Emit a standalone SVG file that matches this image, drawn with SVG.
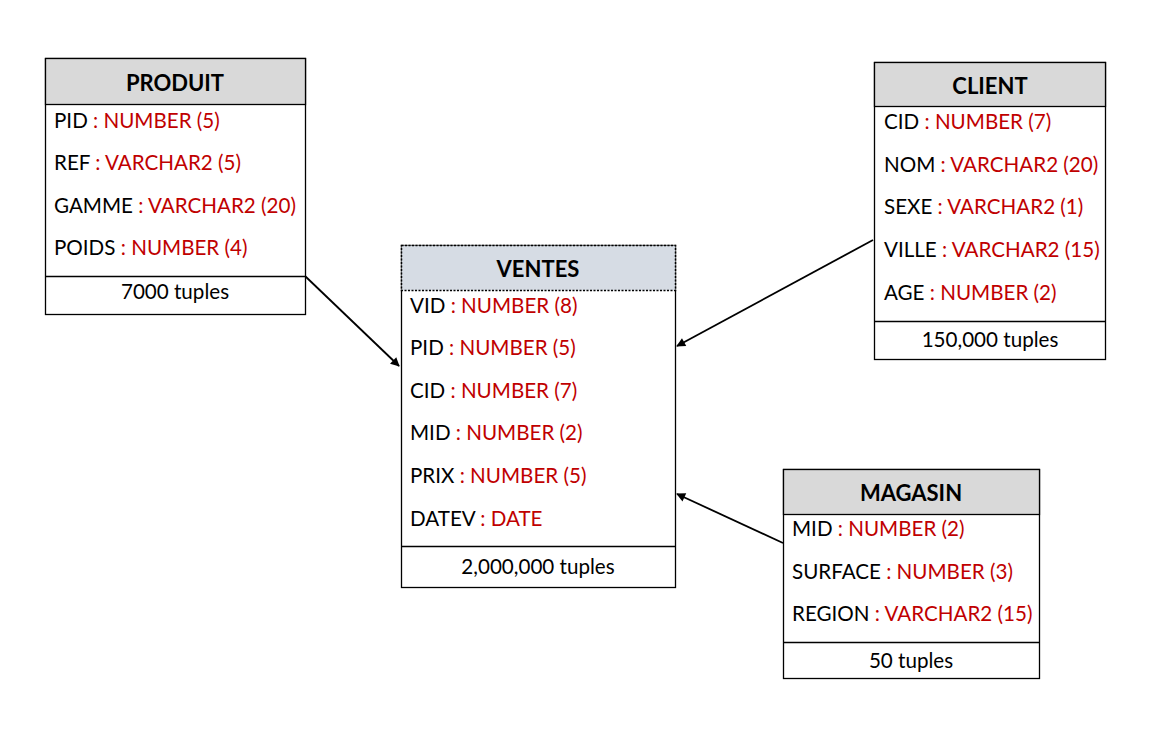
<svg xmlns="http://www.w3.org/2000/svg" width="1160" height="738" viewBox="0 0 1160 738">
<defs>
<style>
.box{fill:#fff;stroke:#000;stroke-width:1.3}
.hd{fill:#d9d9d9;stroke:#000;stroke-width:1.3}
.hdv{fill:#d6dce4;stroke:#000;stroke-width:1.5;stroke-dasharray:2 1.5}
.sep{stroke:#000;stroke-width:1.3}
text{font-family:Lato,"Open Sans",sans-serif;font-size:20.6px;fill:#000}
.t{font-weight:bold;font-size:22px;text-anchor:middle}
.f{text-anchor:middle}
.r{fill:#c00000}
.con{stroke:#000;stroke-width:1.8;fill:none;marker-end:url(#ah)}
</style>
<marker id="ah" viewBox="0 0 10 10" refX="9" refY="5" markerWidth="10" markerHeight="9" orient="auto" markerUnits="userSpaceOnUse">
<path d="M0,0 L10,5 L0,10 z" fill="#000"/>
</marker>
</defs>
<rect width="1160" height="738" fill="#fff"/>
<g id="connectors">
<line class="con" x1="305" y1="276" x2="399" y2="366"/>
<line class="con" x1="873" y1="240" x2="677" y2="346"/>
<line class="con" x1="783" y1="543" x2="677" y2="494"/>
</g>
<g id="produit">
<rect class="box" x="45.5" y="58.5" width="260" height="256"/>
<rect class="hd" x="45.5" y="58.5" width="260" height="46"/>
<line class="sep" x1="45.5" y1="276.5" x2="305.5" y2="276.5"/>
<text class="t" x="175" y="91">PRODUIT</text>
<text x="54" y="128">PID <tspan class="r">: NUMBER (5)</tspan></text>
<text x="54" y="170">REF <tspan class="r">: VARCHAR2 (5)</tspan></text>
<text x="54" y="213">GAMME <tspan class="r">: VARCHAR2 (20)</tspan></text>
<text x="54" y="255">POIDS <tspan class="r">: NUMBER (4)</tspan></text>
<text class="f" x="175" y="299">7000 tuples</text>
</g>
<g id="ventes">
<rect class="box" x="401.5" y="245.5" width="274" height="342"/>
<rect class="hdv" x="401.5" y="245.5" width="274" height="45"/>
<line class="sep" x1="401.5" y1="546.5" x2="675.5" y2="546.5"/>
<text class="t" x="538" y="277">VENTES</text>
<text x="410" y="313">VID <tspan class="r">: NUMBER (8)</tspan></text>
<text x="410" y="355">PID <tspan class="r">: NUMBER (5)</tspan></text>
<text x="410" y="398">CID <tspan class="r">: NUMBER (7)</tspan></text>
<text x="410" y="440">MID <tspan class="r">: NUMBER (2)</tspan></text>
<text x="410" y="483">PRIX <tspan class="r">: NUMBER (5)</tspan></text>
<text x="410" y="526">DATEV <tspan class="r">: DATE</tspan></text>
<text class="f" x="538" y="574">2,000,000 tuples</text>
</g>
<g id="client">
<rect class="box" x="874.5" y="62.5" width="231" height="297"/>
<rect class="hd" x="874.5" y="62.5" width="231" height="44"/>
<line class="sep" x1="874.5" y1="321.5" x2="1105.5" y2="321.5"/>
<text class="t" x="990" y="94">CLIENT</text>
<text x="884" y="129">CID <tspan class="r">: NUMBER (7)</tspan></text>
<text x="884" y="172">NOM <tspan class="r">: VARCHAR2 (20)</tspan></text>
<text x="884" y="214">SEXE <tspan class="r">: VARCHAR2 (1)</tspan></text>
<text x="884" y="257">VILLE <tspan class="r">: VARCHAR2 (15)</tspan></text>
<text x="884" y="300">AGE <tspan class="r">: NUMBER (2)</tspan></text>
<text class="f" x="990" y="347">150,000 tuples</text>
</g>
<g id="magasin">
<rect class="box" x="783.5" y="469.5" width="256" height="209"/>
<rect class="hd" x="783.5" y="469.5" width="256" height="45"/>
<line class="sep" x1="783.5" y1="642.5" x2="1039.5" y2="642.5"/>
<text class="t" x="911" y="501">MAGASIN</text>
<text x="792" y="536">MID <tspan class="r">: NUMBER (2)</tspan></text>
<text x="792" y="579">SURFACE <tspan class="r">: NUMBER (3)</tspan></text>
<text x="792" y="621">REGION <tspan class="r">: VARCHAR2 (15)</tspan></text>
<text class="f" x="911" y="668">50 tuples</text>
</g>
</svg>
